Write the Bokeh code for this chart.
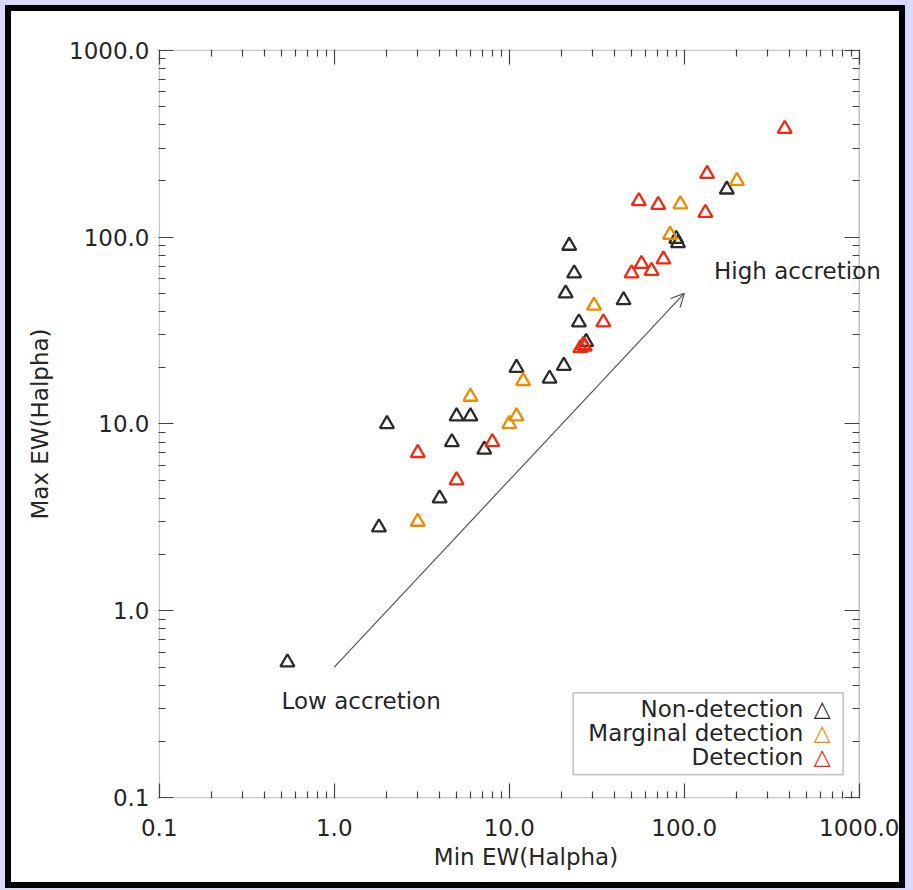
from bokeh.plotting import figure
from bokeh.models import (FixedTicker, CustomJSTickFormatter, LogAxis, Label,
                          Arrow, OpenHead, BoxAnnotation, Range1d)
from bokeh.layouts import column
from bokeh.embed import file_html
from bokeh.resources import INLINE

# ---- data ----
non_x = [0.54, 1.8, 2.0, 4.0, 4.7, 5.0, 6.0, 7.2, 11, 17, 20.5, 21, 22, 23.5, 25, 27.5, 45, 90, 92, 175]
non_y = [0.53, 2.8, 10, 4.0, 8.0, 11, 11, 7.3, 20, 17.5, 20.5, 50, 90, 64, 35, 27.5, 46, 98, 93, 180]

mar_x = [3.0, 6.0, 10, 11, 12, 30.5, 83, 95, 200]
mar_y = [3.0, 14, 10, 11, 17, 43, 103, 150, 200]

det_x = [3.0, 5.0, 8.0, 25.5, 26.5, 27, 34.5, 50, 57, 65, 76, 55, 71, 132, 135, 375]
det_y = [7.0, 5.0, 8.0, 25.5, 26.5, 26, 35, 64, 72, 66, 76, 156, 149, 135, 218, 380]

major_ticks = [0.1, 1, 10, 100, 1000]
minor_ticks = [d * k for d in [0.1, 1, 10, 100] for k in range(2, 10)]

series_names = ["Non-detection", "Marginal detection", "Detection"]

# axis box (data limits) and the view range (a little wider on the right so
# that the "High accretion" note can run past the box, as in the original)
BOX_LO, BOX_HI = 0.1, 1000
X_VIEW = (0.099, 1569.0)
Y_VIEW = (0.099, 1010.0)

# ---- styles ----
FONT = "DejaVu Sans"
FS = "23px"
TXT = "#262626"
AX = "#444444"
C_NON = "#2b2b2b"
C_MAR = "#ee8c00"
C_DET = "#ee2a10"
LAV = "#d9d9fd"

p = figure(width=888, height=871, x_axis_type="log", y_axis_type="log",
           x_range=Range1d(*X_VIEW), y_range=Range1d(*Y_VIEW),
           output_backend="svg", toolbar_location=None,
           min_border_left=147, min_border_right=6, min_border_top=38, min_border_bottom=84,
           background_fill_color="white", border_fill_color="white")
p.outline_line_color = None
p.xgrid.visible = False
p.ygrid.visible = False

fmt = CustomJSTickFormatter(code="return tick.toFixed(1);")


def style_axis(ax, labels=True):
    ax.ticker = FixedTicker(ticks=major_ticks, minor_ticks=minor_ticks)
    ax.formatter = fmt
    ax.axis_line_color = None
    ax.major_tick_line_color = AX
    ax.minor_tick_line_color = AX
    ax.major_tick_line_width = 1.2
    ax.minor_tick_line_width = 1.2
    ax.major_tick_in = 15
    ax.major_tick_out = 0
    ax.minor_tick_in = 7
    ax.minor_tick_out = 0
    ax.major_label_text_font = FONT
    if labels:
        ax.major_label_text_font_size = FS
        ax.major_label_text_color = TXT
    else:
        ax.major_label_text_font_size = "0px"
        ax.major_label_text_color = None
        ax.major_label_standoff = 0
    ax.axis_label_text_font = FONT
    ax.axis_label_text_font_size = FS
    ax.axis_label_text_font_style = "normal"
    ax.axis_label_text_color = TXT


style_axis(p.xaxis[0])
style_axis(p.yaxis[0])
p.xaxis[0].axis_label = "Min EW(Halpha)"
p.yaxis[0].axis_label = "Max EW(Halpha)"
p.xaxis[0].major_label_standoff = 20
p.xaxis[0].axis_label_standoff = 5
p.yaxis[0].major_label_standoff = 9
p.yaxis[0].axis_label_standoff = 13

top_ax = LogAxis()
right_ax = LogAxis(fixed_location=BOX_HI)
style_axis(top_ax, labels=False)
style_axis(right_ax, labels=False)
p.add_layout(top_ax, "above")
p.add_layout(right_ax, "right")

# frame box
p.add_layout(BoxAnnotation(left=BOX_LO, right=BOX_HI, bottom=BOX_LO, top=BOX_HI,
                           fill_color=None, line_color=AX, line_width=1.6, level="underlay"))

# ---- arrow and annotations ----
p.add_layout(Arrow(end=OpenHead(size=13, line_color="#555555", line_width=1.2),
                   x_start=1.0, y_start=0.5, x_end=100, y_end=50,
                   line_color="#555555", line_width=1.2))
p.add_layout(Label(x=0.5, y=0.33, text="Low accretion", text_font=FONT,
                   text_font_size=FS, text_color=TXT, text_baseline="middle"))
p.add_layout(Label(x=148, y=66, text="High accretion", text_font=FONT,
                   text_font_size=FS, text_color=TXT, text_baseline="middle"))

# ---- data marks ----
for xs, ys, c in [(non_x, non_y, C_NON), (mar_x, mar_y, C_MAR), (det_x, det_y, C_DET)]:
    p.scatter(xs, ys, marker="triangle", size=14, fill_color=None,
              line_color=c, line_width=2.3)

# ---- legend (text on the left, symbol on the right) ----
p.add_layout(BoxAnnotation(left=23.2, right=810, bottom=0.133, top=0.364,
                           fill_color="white", fill_alpha=1.0,
                           line_color=AX, line_width=1.8))
leg_y = [0.299, 0.222, 0.1656]
for name, yy, c in zip(series_names, leg_y, [C_NON, C_MAR, C_DET]):
    p.add_layout(Label(x=479, y=yy, text=name, text_font=FONT, text_font_size=FS,
                       text_color=TXT, text_align="right", text_baseline="middle"))
    p.add_layout(Label(x=615, y=yy, text="\u25b3", text_font=FONT, text_font_size="22px",
                       text_color=c, text_align="center", text_baseline="middle"))

inner = column(p, styles={"background-color": "white", "border": "6px solid black"})
layout = column(inner, styles={"background-color": LAV, "padding": "5px 8px 2px 5px"})

open("out.html", "w").write(file_html(layout, INLINE))
